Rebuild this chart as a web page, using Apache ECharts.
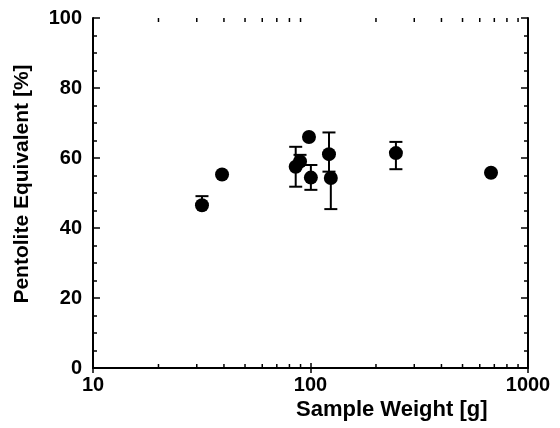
<!DOCTYPE html>
<html>
<head>
<meta charset="utf-8">
<script src="https://cdn.jsdelivr.net/npm/echarts@6/dist/echarts.min.js"></script>
<style>
html,body{margin:0;padding:0;background:#fff;}
#chart{width:560px;height:428px;}
</style>
</head>
<body>
<div id="chart"></div>
<script>
// Data
var sampleWeight = [31.7, 39.2, 85.5, 89.5, 98.4, 100.4, 121.6, 124, 247, 676];
var pentoliteEq  = [46.5, 55.3, 57.5, 59.0, 66.0, 54.4, 61.1, 54.3, 61.4, 55.8];
var errLow       = [null, null, 51.8, null, null, 50.9, 56.1, 45.4, 56.8, null];
var errHigh      = [49.1, null, 63.2, 60.9, null, 58.0, 67.3, null, 64.6, null];
var xMinorTicks  = [20, 30, 40, 50, 60, 70, 80, 90, 200, 300, 400, 500, 600, 700, 800, 900];
var yTicks = [0, 20, 40, 60, 80, 100];
var xTicks = [10, 100, 1000];

var chart = echarts.init(document.getElementById('chart'), null, {renderer: 'canvas'});

var pts = sampleWeight.map(function (x, i) { return [x, pentoliteEq[i]]; });
var errData = [];
sampleWeight.forEach(function (x, i) {
  if (errLow[i] !== null || errHigh[i] !== null) {
    errData.push([x, pentoliteEq[i],
      errLow[i] === null ? NaN : errLow[i],
      errHigh[i] === null ? NaN : errHigh[i]]);
  }
});

var FONT = '"Liberation Sans", Arial, sans-serif';
var labelFont = {fontFamily: FONT, fontWeight: 'bold', fontSize: 20, color: '#000'};
var lineStyle = {color: '#000', width: 2};

chart.setOption({
  animation: false,
  backgroundColor: '#fff',
  grid: {left: 93, right: 32, top: 18, bottom: 60, containLabel: false},
  xAxis: [{
    type: 'log', logBase: 10, min: 10, max: 1000,
    axisLine: {show: true, lineStyle: lineStyle},
    axisTick: {show: true, inside: true, length: 5, lineStyle: {color: '#000', width: 1.5}},
    axisLabel: Object.assign({margin: 7, formatter: function (v) { return String(Math.round(v)); }}, labelFont),
    splitLine: {show: false}
  }, {
    type: 'log', logBase: 10, min: 10, max: 1000, position: 'top',
    axisLine: {show: true, lineStyle: lineStyle},
    axisTick: {show: true, inside: true, length: 5, lineStyle: {color: '#000', width: 1.5}},
    axisLabel: {show: false},
    splitLine: {show: false}
  }],
  yAxis: [{
    type: 'value', min: 0, max: 100, interval: 20,
    axisLine: {show: true, lineStyle: lineStyle},
    axisTick: {show: true, inside: true, length: 7, lineStyle: {color: '#000', width: 1.5}},
    minorTick: {show: true, splitNumber: 4, length: 4, lineStyle: {color: '#000', width: 1.5}},
    axisLabel: Object.assign({margin: 11}, labelFont),
    splitLine: {show: false}
  }, {
    type: 'value', min: 0, max: 100, interval: 20, position: 'right',
    axisLine: {show: true, lineStyle: lineStyle},
    axisTick: {show: true, inside: true, length: 7, lineStyle: {color: '#000', width: 1.5}},
    minorTick: {show: true, splitNumber: 4, length: 4, lineStyle: {color: '#000', width: 1.5}},
    axisLabel: {show: false},
    splitLine: {show: false}
  }],
  graphic: [{
    type: 'text', left: 296, top: 399,
    style: {text: 'Sample Weight [g]', fontFamily: FONT, fontWeight: 'bold', fontSize: 22, fill: '#000'}
  }, {
    type: 'text', x: 22, y: 184, rotation: Math.PI / 2,
    style: {text: 'Pentolite Equivalent [%]', fontFamily: FONT, fontWeight: 'bold', fontSize: 21, fill: '#000',
            align: 'center', verticalAlign: 'middle'}
  }],
  series: [{
    type: 'custom', name: 'minorTicksX', xAxisIndex: 0, yAxisIndex: 0, z: 1,
    data: xMinorTicks.map(function (v) { return [v, 0]; }),
    renderItem: function (params, api) {
      var b = api.coord([api.value(0), 0]);
      var t = api.coord([api.value(0), 100]);
      return {type: 'group', children: [
        {type: 'line', shape: {x1: b[0], y1: b[1], x2: b[0], y2: b[1] - 4}, style: {stroke: '#000', lineWidth: 1.5}},
        {type: 'line', shape: {x1: t[0], y1: t[1], x2: t[0], y2: t[1] + 4}, style: {stroke: '#000', lineWidth: 1.5}}
      ]};
    }
  }, {
    type: 'custom', name: 'errors', xAxisIndex: 0, yAxisIndex: 0, z: 2,
    data: errData,
    renderItem: function (params, api) {
      var x = api.value(0), y = api.value(1), lo = api.value(2), hi = api.value(3);
      var c = api.coord([x, y]);
      var children = [];
      var cap = 6.5;
      if (!isNaN(hi)) {
        var h = api.coord([x, hi]);
        children.push({type: 'line', shape: {x1: c[0], y1: c[1], x2: h[0], y2: h[1]}, style: {stroke: '#000', lineWidth: 2}});
        children.push({type: 'line', shape: {x1: h[0] - cap, y1: h[1], x2: h[0] + cap, y2: h[1]}, style: {stroke: '#000', lineWidth: 2}});
      }
      if (!isNaN(lo)) {
        var l = api.coord([x, lo]);
        children.push({type: 'line', shape: {x1: c[0], y1: c[1], x2: l[0], y2: l[1]}, style: {stroke: '#000', lineWidth: 2}});
        children.push({type: 'line', shape: {x1: l[0] - cap, y1: l[1], x2: l[0] + cap, y2: l[1]}, style: {stroke: '#000', lineWidth: 2}});
      }
      return {type: 'group', children: children};
    }
  }, {
    type: 'scatter', name: 'data', xAxisIndex: 0, yAxisIndex: 0, z: 3,
    symbol: 'circle', symbolSize: 14,
    itemStyle: {color: '#000', opacity: 1},
    data: pts
  }]
});
</script>
</body>
</html>
